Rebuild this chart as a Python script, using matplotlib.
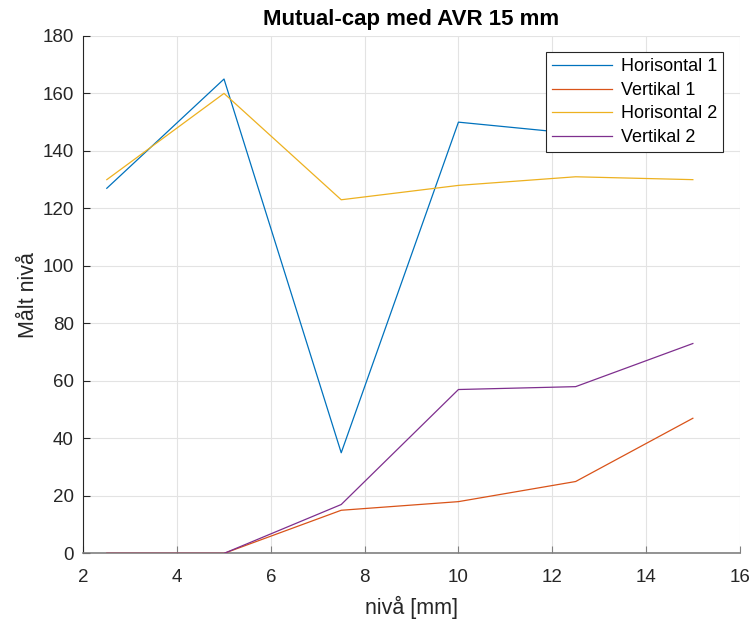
import matplotlib
matplotlib.use('Agg')
import matplotlib.pyplot as plt

plt.rcParams['font.family'] = ['Liberation Sans', 'DejaVu Sans']

# level in mm
x = [2.5, 5, 7.5, 10, 12.5, 15]
horisontal_1 = [127, 165, 35, 150, 146, 145]
vertikal_1 = [0, 0, 15, 18, 25, 47]
horisontal_2 = [130, 160, 123, 128, 131, 130]
vertikal_2 = [0, 0, 17, 57, 58, 73]

fig = plt.figure(figsize=(7.51, 6.19), dpi=100)
ax = fig.add_axes([0.111, 0.106, 0.874, 0.836])

ax.plot(x, horisontal_1, color='#0072BD', lw=0.9, label='Horisontal 1', zorder=3)
ax.plot(x, vertikal_1, color='#D95319', lw=0.9, label='Vertikal 1', zorder=3)
ax.plot(x, horisontal_2, color='#EDB120', lw=0.9, label='Horisontal 2', zorder=3)
ax.plot(x, vertikal_2, color='#7E2F8E', lw=0.9, label='Vertikal 2', zorder=3)

ax.set_xlim(2, 16)
ax.set_ylim(0, 180)
ax.set_xticks(range(2, 17, 2))
ax.set_yticks(range(0, 181, 20))
ax.grid(True, color='#e3e3e3', lw=0.8)
ax.set_axisbelow(True)

for s in ['top', 'right']:
    ax.spines[s].set_visible(False)
ax.spines['left'].set_color('#262626')
ax.spines['bottom'].set_color('#808080')
ax.spines['left'].set_linewidth(0.8)
ax.spines['bottom'].set_linewidth(1.2)
ax.tick_params(direction='in', length=5, width=0.8, colors='#262626', labelsize=13.5)
ax.tick_params(axis='x', pad=11, colors='#808080', labelcolor='#262626')
ax.tick_params(axis='y', pad=7)

ax.set_title('Mutual-cap med AVR 15 mm', fontsize=16, fontweight='bold', pad=8)
ax.set_xlabel('nivå [mm]', fontsize=15.5, color='#262626', labelpad=7)
ax.set_ylabel('Målt nivå', fontsize=15.5, color='#262626', labelpad=2)

leg = ax.legend(loc='upper right', fontsize=13, fancybox=False, framealpha=1,
                edgecolor='#262626', borderpad=0.35, handlelength=3.3,
                handletextpad=0.5, labelspacing=0.36, borderaxespad=0.9)
leg.set_zorder(5)
leg.get_frame().set_linewidth(0.8)

fig.savefig('out.png', dpi=100)
